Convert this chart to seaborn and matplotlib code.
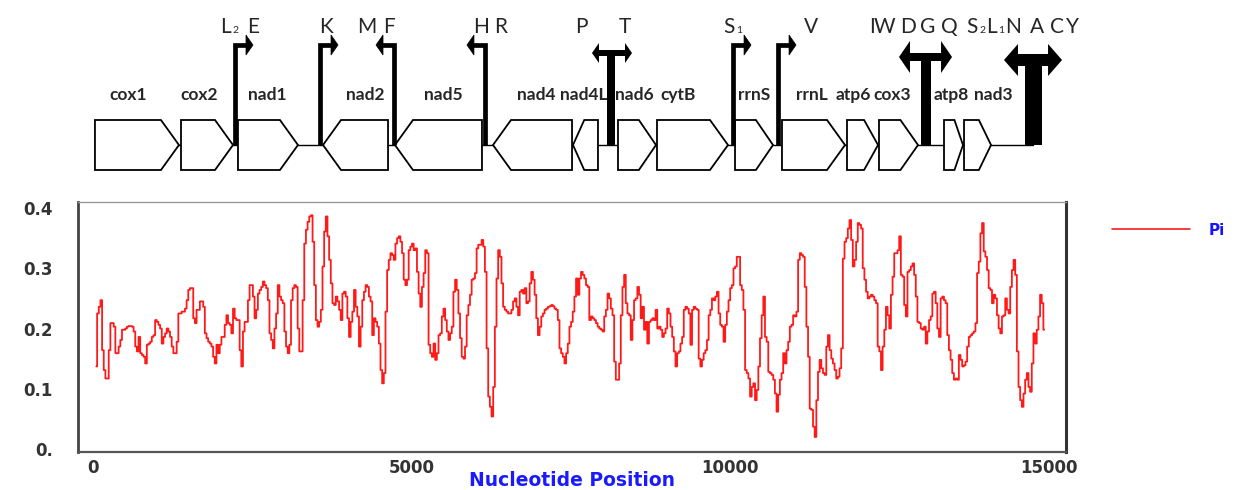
import numpy as np
import matplotlib.pyplot as plt
import seaborn as sns
from matplotlib.patches import Polygon, Rectangle

# ---- sliding window nucleotide diversity (Pi) ----
first_window = 52      # bp, midpoint of first window
window_step = 26       # bp between window midpoints

pi_seg1 = [0.137, 0.225, 0.236, 0.247, 0.164, 0.131, 0.117, 0.117, 0.164, 0.209,
           0.209, 0.203, 0.159, 0.159, 0.170, 0.181, 0.198, 0.198, 0.200, 0.203,
           0.204, 0.204, 0.203, 0.195, 0.170, 0.162, 0.186, 0.159, 0.156, 0.153,
           0.142, 0.173, 0.175, 0.178, 0.186, 0.189, 0.214, 0.211, 0.206, 0.200,
           0.175, 0.186, 0.192, 0.200, 0.195, 0.186, 0.170, 0.159, 0.159, 0.178,
           0.225, 0.225, 0.228, 0.228, 0.233, 0.247, 0.264, 0.267, 0.267, 0.217,
           0.209, 0.231, 0.231, 0.245, 0.245, 0.236, 0.192, 0.184, 0.178, 0.175,
           0.170, 0.153, 0.142, 0.173, 0.159, 0.173, 0.186, 0.186, 0.206, 0.222,
           0.209, 0.206, 0.192, 0.233, 0.217, 0.214, 0.214, 0.164, 0.137, 0.195,
           0.211, 0.211, 0.247, 0.272, 0.272]
pi_seg2 = [0.253, 0.217, 0.231, 0.258, 0.264, 0.269, 0.278, 0.272, 0.267, 0.247,
           0.192, 0.181, 0.167, 0.200, 0.225, 0.272, 0.253, 0.247, 0.242, 0.195,
           0.170, 0.159, 0.173, 0.247, 0.267, 0.272, 0.269, 0.200, 0.162, 0.162,
           0.247, 0.341, 0.364, 0.377, 0.386, 0.388, 0.344, 0.272, 0.214, 0.203,
           0.211, 0.231, 0.303, 0.361, 0.386, 0.353, 0.314, 0.275, 0.242, 0.239,
           0.253, 0.245, 0.231, 0.214, 0.258, 0.261, 0.253, 0.217, 0.186, 0.211,
           0.228, 0.264, 0.236, 0.220, 0.170, 0.203, 0.247, 0.261, 0.272, 0.269,
           0.253, 0.245, 0.189, 0.217, 0.211, 0.203, 0.175, 0.131, 0.109, 0.126,
           0.228, 0.297, 0.314, 0.325, 0.322, 0.314, 0.341, 0.350, 0.353, 0.344,
           0.325, 0.281, 0.272, 0.281, 0.330, 0.336, 0.341, 0.330]
pi_seg3 = [0.333, 0.294, 0.258, 0.236, 0.269, 0.292, 0.330, 0.325, 0.173, 0.159,
           0.153, 0.175, 0.148, 0.159, 0.189, 0.192, 0.220, 0.233, 0.214, 0.195,
           0.181, 0.192, 0.203, 0.261, 0.281, 0.264, 0.225, 0.184, 0.153, 0.150,
           0.170, 0.222, 0.239, 0.256, 0.281, 0.283, 0.292, 0.333, 0.339, 0.339,
           0.347, 0.336, 0.294, 0.167, 0.087, 0.070, 0.054, 0.103, 0.203, 0.283,
           0.330, 0.319, 0.275, 0.236, 0.231, 0.228, 0.225, 0.225, 0.231, 0.245,
           0.250, 0.236, 0.222, 0.261, 0.264, 0.258, 0.267, 0.242, 0.245, 0.275,
           0.294, 0.281, 0.256, 0.217, 0.189, 0.203, 0.220, 0.225, 0.231, 0.233,
           0.236, 0.237, 0.239, 0.237, 0.233, 0.231, 0.214, 0.167, 0.159, 0.153,
           0.142, 0.159, 0.175, 0.203, 0.211, 0.228, 0.253, 0.283]
pi_seg4 = [0.256, 0.283, 0.294, 0.289, 0.283, 0.272, 0.269, 0.214, 0.220, 0.217,
           0.214, 0.209, 0.203, 0.200, 0.198, 0.195, 0.220, 0.231, 0.258, 0.250,
           0.233, 0.222, 0.145, 0.115, 0.115, 0.142, 0.222, 0.269, 0.289, 0.242,
           0.225, 0.222, 0.181, 0.214, 0.247, 0.250, 0.269, 0.256, 0.217, 0.236,
           0.198, 0.211, 0.175, 0.211, 0.214, 0.217, 0.214, 0.231, 0.200, 0.203,
           0.198, 0.186, 0.192, 0.200, 0.233, 0.225, 0.203, 0.186, 0.162, 0.137,
           0.159, 0.162, 0.175, 0.186, 0.231, 0.236, 0.233, 0.225, 0.173, 0.231,
           0.236, 0.233, 0.231, 0.150, 0.137, 0.148, 0.159, 0.164, 0.181, 0.222,
           0.231, 0.250, 0.247, 0.253, 0.261, 0.225, 0.206, 0.203, 0.178, 0.206,
           0.228, 0.247, 0.267, 0.272, 0.300, 0.303, 0.319]
pi_seg5 = [0.319, 0.272, 0.264, 0.231, 0.131, 0.126, 0.117, 0.087, 0.103, 0.109,
           0.081, 0.098, 0.137, 0.184, 0.222, 0.253, 0.186, 0.178, 0.128, 0.126,
           0.123, 0.115, 0.092, 0.062, 0.090, 0.115, 0.126, 0.159, 0.142, 0.164,
           0.178, 0.203, 0.206, 0.222, 0.220, 0.228, 0.314, 0.325, 0.322, 0.319,
           0.269, 0.203, 0.153, 0.067, 0.065, 0.037, 0.020, 0.081, 0.128, 0.148,
           0.134, 0.126, 0.123, 0.170, 0.189, 0.164, 0.150, 0.142, 0.131, 0.117,
           0.120, 0.134, 0.167, 0.316, 0.344, 0.350, 0.366, 0.380, 0.347, 0.303,
           0.314, 0.344, 0.375, 0.372, 0.366, 0.300, 0.281, 0.261, 0.250, 0.253,
           0.256, 0.253, 0.247, 0.242, 0.170, 0.162, 0.131, 0.170, 0.198, 0.236,
           0.222, 0.200, 0.256, 0.286, 0.325, 0.325, 0.330, 0.353, 0.289]
pi_seg6 = [0.286, 0.239, 0.220, 0.294, 0.297, 0.303, 0.308, 0.289, 0.253, 0.211,
           0.209, 0.200, 0.198, 0.203, 0.175, 0.195, 0.214, 0.220, 0.258, 0.261,
           0.242, 0.200, 0.186, 0.250, 0.253, 0.247, 0.242, 0.189, 0.164, 0.148,
           0.126, 0.115, 0.117, 0.115, 0.156, 0.148, 0.137, 0.139, 0.145, 0.170,
           0.186, 0.189, 0.192, 0.195, 0.209, 0.292, 0.311, 0.358, 0.375, 0.328,
           0.319, 0.297, 0.267, 0.264, 0.242, 0.256, 0.250, 0.222, 0.200, 0.192,
           0.220, 0.222, 0.250, 0.231, 0.225, 0.269, 0.297, 0.314, 0.289, 0.162,
           0.103, 0.081, 0.070, 0.092, 0.115, 0.126, 0.103, 0.095, 0.142, 0.192,
           0.175, 0.198, 0.220, 0.256, 0.242, 0.198]

x_ticks = [0, 5000, 10000, 15000]
y_ticks = [0.0, 0.1, 0.2, 0.3, 0.4]
y_tick_labels = ['0.', '0.1', '0.2', '0.3', '0.4']

# ---- gene map (bp) ----
gene_names = ['cox1', 'cox2', 'nad1', 'nad2', 'nad5', 'nad4', 'nad4L', 'nad6',
              'cytB', 'rrnS', 'rrnL', 'atp6', 'cox3', 'atp8', 'nad3']
gene_start = [31, 1381, 2275, 3609, 4738, 6276, 7531, 8237,
              8849, 10073, 10810, 11830, 12332, 13352, 13666]
gene_end = [1349, 2197, 3216, 4629, 6103, 7516, 7923, 8833,
            9963, 10669, 11799, 12317, 12944, 13650, 14090]
gene_strand = [1, 1, 1, -1, -1, -1, -1, 1, 1, 1, 1, 1, 1, 1, 1]
gene_label_pos = [549, 1663, 2730, 4268, 5492, 6950, 7700, 8500,
                  9179, 10371, 11281, 11924, 12536, 13462, 14121]

# single tRNAs (bar position, direction)
trna_pos = [2228, 3562, 4723, 6150, 10042, 10748]
trna_dir = [1, 1, -1, -1, 1, 1]

# tRNA clusters on both strands
cluster_pos = [8127, 13070, 14756]
cluster_left = [7829, 12646, 14293]
cluster_right = [8457, 13478, 15204]

trna_letters = ['L', 'E', 'K', 'M', 'F', 'H', 'R', 'P', 'T', 'S', 'V',
                'I', 'W', 'D', 'G', 'Q', 'S', 'L', 'N', 'A', 'C', 'Y']
trna_subs = ['2', '', '', '', '', '', '', '', '', '1', '',
             '', '', '', '', '', '2', '1', '', '', '', '']
trna_label_pos = [2087, 2510, 3656, 4299, 4644, 6088, 6402, 7657, 8347, 9979, 11265,
                  12223, 12411, 12787, 13101, 13431, 13792, 14090, 14435, 14811, 15125, 15361]

pi = np.array(pi_seg1 + pi_seg2 + pi_seg3 + pi_seg4 + pi_seg5 + pi_seg6)
positions = first_window + window_step * np.arange(len(pi))

sns.set_style('white')
plt.rcParams['font.family'] = ['DejaVu Sans']

fig = plt.figure(figsize=(12.4, 4.9), dpi=100)
ax = fig.add_axes([78 / 1240, 1 - 452 / 490, 988 / 1240, 250 / 490])
ax_map = fig.add_axes([78 / 1240, 1 - 186 / 490, 988 / 1240, 186 / 490])

xmin, xmax = -235, 15266

# ---- diversity plot ----
sns.lineplot(x=positions, y=pi, ax=ax, color='#ff1a1a', lw=1.3,
             drawstyle='steps-mid', label='Pi')
ax.set_xlim(xmin, xmax)
ax.set_ylim(-0.005, 0.41)
ax.set_xticks(x_ticks)
ax.set_xticklabels([str(t) for t in x_ticks])
ax.set_xticks([2500, 7500, 12500], minor=True)
ax.set_yticks(y_ticks)
ax.set_yticklabels(y_tick_labels)
ax.set_yticks([0.05, 0.15, 0.25, 0.35], minor=True)
ax.tick_params(which='both', direction='out', colors='#333333', width=1.5)
ax.tick_params(axis='y', which='both', length=7, pad=11)
ax.tick_params(axis='x', which='both', length=3, pad=2)
for lab in ax.get_xticklabels() + ax.get_yticklabels():
    lab.set_fontweight('bold')
    lab.set_fontsize(12)
ax.spines['left'].set(linewidth=2, color='#444444')
ax.spines['bottom'].set(linewidth=1.6, color='#555555')
ax.spines['right'].set(linewidth=2.2, color='#333333')
ax.spines['top'].set(linewidth=1, color='#999999')
ax.set_xlabel('Nucleotide Position', color='#1a1aff', fontweight='bold', fontsize=13.5)
ax.xaxis.set_label_coords(0.5, -(480 - 452) / 250)
ax.xaxis.label.set_va('center')
ax.set_ylabel('')

leg = ax.legend(loc='center left', bbox_to_anchor=(1112 / 1240, 1 - 230 / 490),
                bbox_transform=fig.transFigure, frameon=False, handlelength=5.1,
                handletextpad=1.2, borderpad=0, borderaxespad=0,
                prop={'weight': 'bold', 'size': 11})
for line in leg.get_lines():
    line.set_linewidth(1.2)
for t in leg.get_texts():
    t.set_color('#1414ff')

# ---- gene map ----
ax_map.set_xlim(xmin, xmax)
ax_map.set_ylim(186, 0)
ax_map.axis('off')
bp_px = (xmax - xmin) / 988.0
mid, top, bot = 145, 120, 170

ax_map.plot([gene_start[0], cluster_pos[-1]], [mid, mid], color='black', lw=1, zorder=1)

for s, e, strand in zip(gene_start, gene_end, gene_strand):
    tip = min(18 * bp_px, 0.45 * (e - s))
    if strand > 0:
        pts = [(s, top), (e - tip, top), (e, mid), (e - tip, bot), (s, bot)]
    else:
        pts = [(s, mid), (s + tip, top), (e, top), (e, bot), (s + tip, bot)]
    ax_map.add_patch(Polygon(pts, closed=True, fc='white', ec='black', lw=1.3, zorder=2))

for name, xl in zip(gene_names, gene_label_pos):
    ax_map.text(xl, 95, name, ha='center', va='center', fontsize=12.5,
                fontweight='bold', family=['Lato', 'DejaVu Sans'], clip_on=False)

for x, d in zip(trna_pos, trna_dir):
    ax_map.plot([x, x, x + d * 12 * bp_px], [mid, 45, 45], color='black', lw=3.4,
                solid_joinstyle='miter', solid_capstyle='butt', zorder=3)
    ax_map.add_patch(Polygon([(x + d * 11 * bp_px, 35), (x + d * 11 * bp_px, 55),
                              (x + d * 18 * bp_px, 45)], fc='black', ec='black',
                             lw=0.5, zorder=3))

# bar width, shaft thickness, head half height, head length, shaft centre (px)
t_style = [(8, 6, 10, 7, 53), (10, 8, 16, 11, 57), (17, 12, 16, 14, 60)]
for x, l, r, (bw, sh, hh, hl, yc) in zip(cluster_pos, cluster_left, cluster_right, t_style):
    ax_map.add_patch(Rectangle((x - bw * bp_px / 2, yc - sh / 2), bw * bp_px,
                               mid - yc + sh / 2, fc='black', ec='none', zorder=3))
    ax_map.add_patch(Rectangle((l + hl * bp_px * 0.9, yc - sh / 2),
                               (r - l) - 1.8 * hl * bp_px, sh, fc='black', ec='none', zorder=3))
    for tip_x, sgn in [(l, 1), (r, -1)]:
        ax_map.add_patch(Polygon([(tip_x, yc), (tip_x + sgn * hl * bp_px, yc - hh),
                                  (tip_x + sgn * hl * bp_px, yc + hh)],
                                 fc='black', ec='none', zorder=3))

for letter, sub, xl in zip(trna_letters, trna_subs, trna_label_pos):
    t = ax_map.text(xl, 27, letter, ha='center', va='center', fontsize=15,
                    family=['Lato', 'DejaVu Sans'], clip_on=False)
    if sub:
        ax_map.annotate(sub, xy=(1.0, 0.12), xycoords=t, xytext=(1, 0),
                        textcoords='offset points', ha='left', va='bottom',
                        fontsize=7.5, family=['Lato', 'DejaVu Sans'])

fig.savefig('out.png', dpi=100)
